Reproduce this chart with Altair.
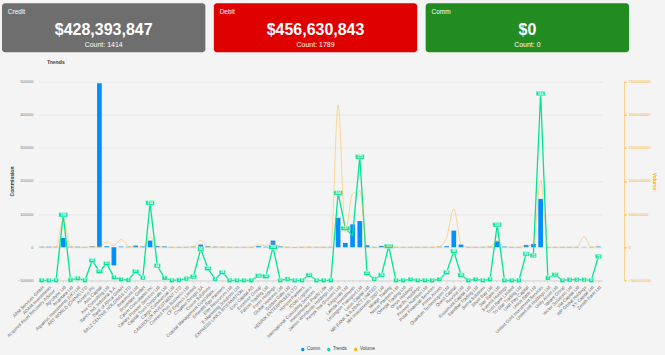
import altair as alt
import pandas as pd

# ---------------- summary cards ----------------
card_names = ["Credit", "Debit", "Comm"]
card_amounts = ["$428,393,847", "$456,630,843", "$0"]
card_counts = [1414, 1789, 0]
card_colors = ["#6e6e6e", "#df0000", "#228b22"]

# ---------------- trends chart ----------------
names = [
    "ABM Services GmbH", "ADAM Investments", "Acquired Asset Recovery Advisory Limited",
    "Agrodyne Ltd", "Alcantara Ltd", "Aquarius Investments (UK) Ltd", "ART WORLD (CHINA) LTD",
    "Assetco Plc", "Avis Capital", "Axe Consulting Ltd", "Banco Ind. Industria S.A.",
    "Bank of Africa GmbH", "BALZ CENTRE HOLDINGS LTD", "Beaumont Ltd", "Brookdale GmbH",
    "Calvin Consultants Inc", "Canary Pioneer Services Ltd", "Capital Trust Corporate Ltd",
    "Cargo Commercial Ltd", "CARIBOLUX INVESTMENT LTD", "Connect Plus Business Ltd",
    "CP Express Limited", "Creative Design SA", "Crown Solutions",
    "Coastal Management Consultancy Ltd", "Emerald Bay Partners", "Elite Resources Ltd",
    "E-Marketing Solutions Ltd", "EXPRESS LINKS INTERNATIONAL LTD", "Euro Capital AG",
    "Excelsior Group", "Falcon Trading Ltd", "Forex Holdings", "Global Ventures Ltd",
    "Golden Gate Ltd", "HENRIX ENTERPRISES LTD", "Horizon Partners", "ICON Logistics",
    "International Consulting Services Pty Ltd", "Investimentos Prado Lda",
    "James Worldwide Holdings Ltd", "Kenya Tea Growers Ltd", "Kingsway Ltd",
    "Lamda Investments", "Lewington Transport Ltd", "Lotus Capital Ltd",
    "MB BANK & A-ZBACT LIMITED", "MH Investments 2007 Ltd", "Mirage Trading",
    "Nexus Partners Ltd", "Omega Trading Ltd", "Orion Holdings", "Pacific Holdings",
    "Pioneer Nutrition Ltd", "Polar Financial Services", "Prime Assets",
    "Quantum Technologies Ltd", "Quest Capital", "Revolut Ltd", "Rosemont Capital Ltd",
    "Sandbar Trading Ltd", "Sierra Solutions", "Silver Bay Ltd", "Star Bank Ltd",
    "Summit Holdings", "Trust Bank Limited", "Tri-Star Trading Ltd", "UAB Pay Capital",
    "Union Bank Ltd", "United Gold Investment Services", "United Intl Holdings Ltd",
    "Unity Asset Ltd", "Valiant Group", "Vector Solutions Ltd", "VM Capital Ltd",
    "WP Global Holdings", "XY Capital Ltd", "Zenith Bank Ltd",
]

comm = [
    1500, 1500, 1000, 28000, 1500, 1500, 1000, 2500, 495000, 3000,
    -55000, 2000, 1500, 5000, 2000, 20000, 3000, 2500, 1000, 1000,
    1000, 1500, 8000, 2500, 1500, 1000, 1000, 1000, 1000, 1000,
    3000, 1500, 20000, 2500, 1000, 1000, 1000, 1000, 1000, 1000,
    1000, 89000, 13000, 69000, 79000, 6000, 1000, 4000, 2000, 1000,
    1000, 1000, 1000, 1000, 1000, 1500, 3000, 50000, 8000, 1000,
    1000, 1000, 1500, 18000, 2000, 1000, 1000, 7000, 10000, 146000,
    1000, 1000, 1000, 1000, 1000, 1000, 1000, 2000,
]

trend = [
    0, 0, 0, 198, 1, 6, 0, 60, 27, 51,
    9, 3, 1, 27, 8, 234, 44, 7, 0, 1,
    5, 11, 95, 36, 4, 24, 0, 0, 0, 0,
    14, 12, 100, 0, 4, 0, 0, 16, 0, 0,
    0, 264, 157, 135, 373, 21, 4, 16, 103, 0,
    0, 3, 0, 0, 0, 3, 24, 88, 16, 0,
    3, 0, 3, 168, 0, 0, 0, 80, 75, 564,
    7, 17, 0, 2, 2, 2, 0, 72,
]

volume_millions = [
    0, 0, 5, 420, 10, 0, 0, 10, 5, 80,
    25, 120, 15, 0, 5, 160, 25, 0, 0, 0,
    0, 5, 105, 10, 0, 5, 0, 0, 0, 0,
    35, 30, 70, 10, 0, 0, 0, 5, 0, 0,
    0, 2150, 230, 810, 850, 0, 0, 0, 15, 0,
    0, 0, 0, 0, 0, 10, 150, 580, 50, 0,
    0, 0, 5, 100, 0, 0, 0, 20, 40, 1010,
    0, 0, 0, 0, 0, 160, 0, 20,
]

hidden_labels = ["Lamda Investments"]

series_names = ["Comm", "Trends", "Volume"]
series_colors = ["#008FFB", "#00E396", "#FEB019"]

comm_ticks = [-100000, 0, 100000, 200000, 300000, 400000, 500000]
trend_ticks = [0, 100, 200, 300, 400, 500, 600]
volume_ticks = [-500000000, 0, 500000000, 1000000000, 1500000000, 2000000000, 2500000000]

assert len(names) == len(comm) == len(trend) == len(volume_millions)

df = pd.DataFrame({
    "name": names,
    "comm": comm,
    "trend": trend,
    "volume": [v * 1_000_000 for v in volume_millions],
})
df["label"] = df["trend"].astype(str)
df["digits"] = df["label"].str.len().astype(str)
df["show"] = ~df["name"].isin(hidden_labels)

GREEN, BLUE, ORANGE = series_colors[1], series_colors[0], series_colors[2]

xscale = alt.Scale(domain=names, paddingInner=0.35, paddingOuter=0.175)
x_axis = alt.Axis(
    labelAngle=-45, labelFontSize=4.5, labelColor="#666666", labelLimit=72,
    labelPadding=2, domainColor="#d8d8d8", tickColor="#d8d8d8", tickSize=2,
    title=None, grid=False, labelOverlap=False,
)
x_enc = alt.X("name:N", scale=xscale, axis=x_axis, title=None)

base = alt.Chart(df)

bars = base.mark_bar().transform_calculate(series="'Comm'").encode(
    x=x_enc,
    y=alt.Y("comm:Q", scale=alt.Scale(domain=[-100000, 500000], nice=False, zero=False),
            axis=alt.Axis(values=comm_ticks, format="d", title="Commission",
                          labelFontSize=4, labelColor="#777777", labelPadding=5,
                          titleFontSize=5, titleFontWeight="bold", titleColor="#333333",
                          titlePadding=3, domain=False, ticks=False,
                          grid=True, gridColor="#e2e2e2", gridWidth=0.7)),
    color=alt.Color("series:N",
                    scale=alt.Scale(domain=series_names, range=series_colors),
                    legend=alt.Legend(orient="none", legendX=263, legendY=266,
                                      direction="horizontal", title=None,
                                      symbolType="circle", symbolSize=12,
                                      symbolStrokeWidth=0, labelFontSize=4.5,
                                      labelColor="#373d3f", labelOffset=2,
                                      columnPadding=6, padding=0)),
)

box_paths = [
    "M-0.55,-0.5H0.55V0.5H-0.55Z",
    "M-0.72,-0.5H0.72V0.5H-0.72Z",
    "M-1,-0.5H1V0.5H-1Z",
]

tline = base.mark_line(color=GREEN, strokeWidth=1.3).encode(
    x=x_enc,
    y=alt.Y("trend:Q", scale=alt.Scale(domain=[0, 600], nice=False),
            axis=alt.Axis(orient="right", values=trend_ticks, format="d", title="Trends",
                          labelFontSize=4, labelColor=GREEN, labelPadding=2,
                          tickSize=2, tickColor=GREEN, domainColor=GREEN,
                          domainOpacity=0.5, titleColor=GREEN, titleFontSize=5,
                          titlePadding=3, grid=False)),
)
tbox = base.mark_point(filled=True, color=GREEN, stroke="white", strokeWidth=0.4,
                       opacity=1, size=80).transform_filter("datum.show").encode(
    x=x_enc,
    y=alt.Y("trend:Q", axis=None),
    shape=alt.Shape("digits:N", scale=alt.Scale(domain=["1", "2", "3"], range=box_paths),
                    legend=None),
)
ttext = base.mark_text(color="white", fontSize=3.3, fontWeight="bold",
                       baseline="middle").transform_filter("datum.show").encode(
    x=x_enc,
    y=alt.Y("trend:Q", axis=None),
    text="label:N",
)
trend_layer = alt.layer(tline, tbox, ttext)

vline = base.mark_line(color=ORANGE, strokeWidth=0.6, opacity=0.75,
                       interpolate="monotone").encode(
    x=x_enc,
    y=alt.Y("volume:Q", scale=alt.Scale(domain=[-500000000, 2500000000], nice=False),
            axis=alt.Axis(orient="right", offset=22, values=volume_ticks, format="d",
                          title="Volume", labelFontSize=4, labelColor=ORANGE,
                          labelPadding=2, tickSize=2, tickColor=ORANGE,
                          domainColor=ORANGE, domainOpacity=0.5, titleColor=ORANGE,
                          titleFontSize=5, titlePadding=1, grid=False)),
)

main = alt.layer(bars, trend_layer, vline).resolve_scale(y="independent").properties(
    width=565, height=199,
    title=alt.Title("Trends", anchor="start", frame="group", fontSize=5.5,
                    fontWeight="bold", color="#373d3f", dx=9, offset=14),
)

# cards row (its band scale starts 36 px left of the chart's plot origin)
cards_df = pd.DataFrame({
    "name": card_names,
    "amount": card_amounts,
    "count": [f"Count: {c}" for c in card_counts],
})
cx = alt.X("name:N", scale=alt.Scale(domain=card_names, range=[-36, 592],
                                     paddingInner=0.04, paddingOuter=0),
           axis=None)
cbase = alt.Chart(cards_df)
crect = cbase.mark_rect(cornerRadius=3).encode(
    x=cx,
    fill=alt.Fill("name:N", scale=alt.Scale(domain=card_names, range=card_colors), legend=None),
)
ctitle = cbase.mark_text(align="left", baseline="middle", dx=-96, fontSize=6.5,
                         color="white").encode(x=cx, y=alt.value(9), text="name:N")
camount = cbase.mark_text(baseline="middle", fontSize=16, fontWeight="bold",
                          color="white").encode(x=cx, y=alt.value(27), text="amount:N")
ccount = cbase.mark_text(baseline="middle", fontSize=7, color="white").encode(
    x=cx, y=alt.value(42), text="count:N")
cards = alt.layer(crect, ctitle, camount, ccount).properties(width=592, height=49)

chart = alt.vconcat(cards, main, spacing=7.5).resolve_scale(
    color="independent", fill="independent", shape="independent"
).properties(
    padding={"left": 2, "top": 3, "right": 8, "bottom": 4},
    background="#f4f4f4",
).configure(font="Liberation Sans").configure_view(stroke=None)

chart.save("out.html", embed_options={"renderer": "svg", "actions": False})
